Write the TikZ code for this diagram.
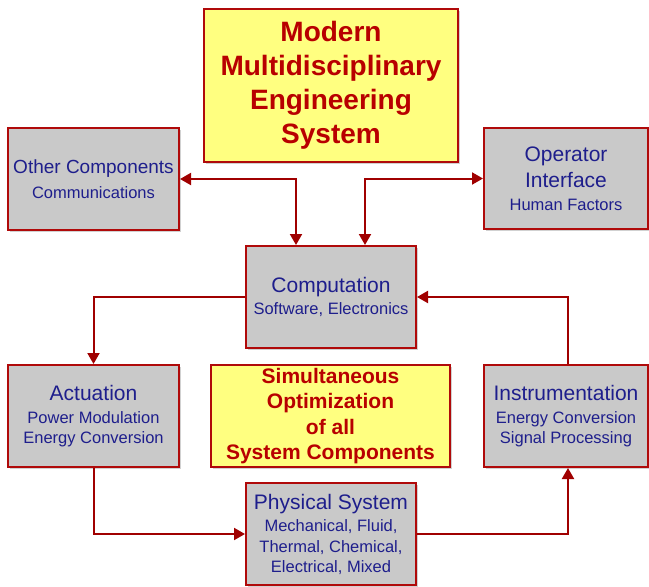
\documentclass[tikz,border=0pt]{standalone}
\usepackage{fontspec}
\setmainfont{Liberation Sans}
\usetikzlibrary{arrows.meta,shadows}
\definecolor{bred}{HTML}{B00A0A}
\definecolor{ared}{HTML}{A00000}
\definecolor{tred}{HTML}{B80000}
\definecolor{gfill}{HTML}{C9C9C9}
\definecolor{yfill}{HTML}{FFFF80}
\definecolor{tblue}{HTML}{1E1E8C}
\newcommand{\bigline}{\fontsize{21}{21}\selectfont}
\begin{document}
\begin{tikzpicture}[x=1pt,y=-1pt,
  basebox/.style={draw=bred, line width=2pt, rectangle, inner sep=0pt, align=center,
    drop shadow={shadow xshift=1.5pt, shadow yshift=-1.5pt, fill=black, opacity=0.18}},
  graybox/.style={basebox, fill=gfill, text=tblue, font=\fontsize{16.5}{21}\selectfont},
  yelbox/.style={basebox, fill=yfill, text=tred, font=\bfseries},
  conn/.style={draw=ared, line width=2pt, -{Triangle[length=11pt,width=12pt]}},
  bconn/.style={draw=ared, line width=2pt, {Triangle[length=11pt,width=12pt]}-{Triangle[length=11pt,width=12pt]}}
]
\useasboundingbox[fill=white] (0,0) rectangle (649,587);

\node[yelbox, minimum width=254pt, minimum height=153pt,
  font=\bfseries\fontsize{28}{34}\selectfont] (title) at (331,85.5)
  {Modern\\Multidisciplinary\\Engineering\\System};

\node[graybox, minimum width=171pt, minimum height=102pt] (other) at (93.5,179)
  {{\fontsize{19}{21}\selectfont Other Components}\\[4pt]Communications};

\node[graybox, minimum width=164pt, minimum height=101pt] (op) at (566,178.5)
  {{\bigline Operator}\\[5pt]{\bigline Interface}\\[2pt]Human Factors};

\node[graybox, minimum width=170pt, minimum height=102pt] (comp) at (331,297)
  {{\bigline Computation}\\[1pt]Software, Electronics};

\node[graybox, minimum width=171pt, minimum height=102pt] (act) at (93.5,416)
  {{\bigline Actuation}\\[2pt]Power Modulation\\[-1pt]Energy Conversion};

\node[yelbox, minimum width=239pt, minimum height=102pt,
  font=\bfseries\fontsize{21}{25.5}\selectfont] (opt) at (330.5,416)
  {Simultaneous\\Optimization\\of all\\System Components};

\node[graybox, minimum width=164pt, minimum height=102pt] (inst) at (566,416)
  {{\bigline Instrumentation}\\[2pt]Energy Conversion\\[-1pt]Signal Processing};

\node[graybox, minimum width=170pt, minimum height=102pt] (phys) at (331,534)
  {{\bigline Physical System}\\[1pt]Mechanical, Fluid,\\Thermal, Chemical,\\[-1pt]Electrical, Mixed};

\draw[bconn] (other.east) -| ([xshift=-35pt]comp.north);
\draw[bconn] (op.west) -| ([xshift=34pt]comp.north);
\draw[conn] (comp.west) -| (act.north);
\draw[conn] (act.south) |- (phys.west);
\draw[conn] (phys.east) -| ([xshift=2pt]inst.south);
\draw[conn] ([xshift=2pt]inst.north) |- (comp.east);
\end{tikzpicture}
\end{document}
